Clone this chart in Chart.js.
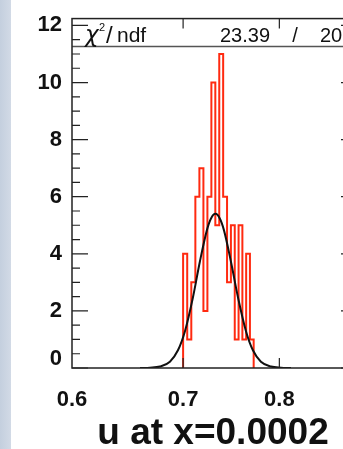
<!DOCTYPE html>
<html>
<head>
<meta charset="utf-8">
<script src="https://cdn.jsdelivr.net/npm/chart.js@4.4.1/dist/chart.umd.min.js"></script>
<style>
  html, body { margin: 0; padding: 0; overflow: hidden; }
  body {
    width: 343px; height: 449px;
    background: linear-gradient(to right, #c4cfde 0, #d2dae6 11px, #ffffff 11px);
  }
  #wrap { position: absolute; left: 0; top: 0; width: 360px; height: 449px; }
</style>
</head>
<body>
<div id="wrap"><canvas id="histChart" width="360" height="449"></canvas></div>
<script>
// histogram bins (lower edges + last upper edge) and entries
const binEdges = [0.700, 0.704, 0.708, 0.712, 0.716, 0.720, 0.724, 0.728, 0.732, 0.736,
                  0.740, 0.744, 0.748, 0.752, 0.756, 0.760, 0.764, 0.768, 0.772];
const binCounts = [4, 1, 3, 6, 7, 2, 6, 10, 5, 11, 6, 3, 5, 1, 5, 1, 4, 1];

// gaussian fit
const fitX = [0.6594, 0.6685, 0.6779, 0.6873, 0.6950, 0.7018, 0.7096, 0.7165, 0.7235, 0.7275,
              0.7321, 0.7367, 0.7408, 0.7480, 0.7554, 0.7638, 0.7712, 0.7798, 0.7907, 0.8018, 0.8130];
const fitY = [0.00, 0.01, 0.05, 0.22, 0.62, 1.29, 2.47, 3.73, 4.83, 5.23,
              5.40, 5.23, 4.83, 3.73, 2.47, 1.29, 0.62, 0.22, 0.05, 0.01, 0.00];

const xTicks = [0.6, 0.7, 0.8];
const yTicks = [0, 2, 4, 6, 8, 10, 12];
const chi2 = '23.39';
const ndf = '20';
const title = 'u at x=0.0002';

// step outline points for the histogram
let histPts = [{x: binEdges[0], y: 0}];
for (let i = 0; i < binCounts.length; i++) {
    histPts.push({x: binEdges[i + 1], y: binCounts[i]});
}
histPts.push({x: binEdges[binEdges.length - 1], y: 0});

let fitPts = fitX.map((v, i) => ({x: v, y: fitY[i]}));

// frame, inward ticks, stats box and axis title like a ROOT canvas
const rootFrame = {
    id: 'rootFrame',
    afterDraw(chart) {
        const ctx = chart.ctx;
        const a = chart.chartArea;
        const xs = chart.scales.x, ys = chart.scales.y;
        ctx.save();

        // stats box
        const boxH = 28;
        ctx.fillStyle = '#ffffff';
        ctx.fillRect(a.left, a.top, a.right - a.left, boxH);
        ctx.strokeStyle = '#555';
        ctx.lineWidth = 1.5;
        ctx.beginPath();
        ctx.moveTo(a.left, a.top + boxH);
        ctx.lineTo(a.right, a.top + boxH);
        ctx.stroke();

        ctx.fillStyle = '#111';
        ctx.textBaseline = 'alphabetic';
        ctx.textAlign = 'left';
        let ty = a.top + 23;
        ctx.font = 'italic 23px "DejaVu Sans"';
        ctx.fillText('χ', 85, ty);
        ctx.font = '11px "Liberation Sans"';
        ctx.fillText('2', 99, ty - 11);
        ctx.font = '24px "Liberation Sans"';
        ctx.fillText('/', 106, ty + 1);
        ctx.font = '21px "Liberation Sans"';
        ctx.fillText('ndf', 117, ty);
        ctx.font = '20px "Liberation Sans"';
        ctx.textAlign = 'right';
        ctx.fillText(chi2, 270, ty);
        ctx.textAlign = 'center';
        ctx.fillText('/', 295, ty);
        ctx.textAlign = 'left';
        ctx.fillText(ndf, 320, ty);

        // frame
        ctx.strokeStyle = '#222';
        ctx.lineWidth = 1.5;
        ctx.strokeRect(a.left, a.top, a.right - a.left, a.bottom - a.top);

        // y ticks, both sides
        ctx.lineWidth = 1.2;
        ctx.beginPath();
        for (let i = 0; i < yTicks.length; i++) {
            let step = i + 1 < yTicks.length ? yTicks[i + 1] - yTicks[i] : yTicks[1] - yTicks[0];
            for (let k = 0; k < 4; k++) {
                let v = yTicks[i] + k * step / 4;
                if (v > ys.max) break;
                let py = ys.getPixelForValue(v);
                let len = k === 0 ? 16 : 8;
                ctx.moveTo(a.left, py); ctx.lineTo(a.left + len, py);
                ctx.moveTo(a.right, py); ctx.lineTo(a.right - len, py);
            }
        }
        // x ticks, bottom and top
        for (let v of xTicks) {
            let px = xs.getPixelForValue(v);
            if (px < a.left + 2) continue;
            ctx.moveTo(px, a.bottom); ctx.lineTo(px, a.bottom - 10);
            ctx.moveTo(px, a.top); ctx.lineTo(px, a.top + 10);
        }
        ctx.stroke();

        // axis title
        ctx.fillStyle = '#111';
        ctx.font = 'bold 37px "Liberation Sans"';
        ctx.textAlign = 'center';
        ctx.fillText(title, 213, 444);
        ctx.restore();
    }
};

const ctx = document.getElementById('histChart').getContext('2d');
new Chart(ctx, {
    type: 'line',
    data: {
        datasets: [{
            label: 'fit',
            data: fitPts,
            borderColor: '#111111',
            borderWidth: 2,
            pointRadius: 0,
            cubicInterpolationMode: 'monotone',
            order: 0
        }, {
            label: 'u',
            data: histPts,
            borderColor: '#ff2a10',
            borderWidth: 2,
            pointRadius: 0,
            stepped: 'after',
            order: 1
        }]
    },
    plugins: [rootFrame],
    options: {
        responsive: false,
        devicePixelRatio: 1,
        animation: false,
        layout: { padding: { left: 0, right: 3, top: 13, bottom: 0 } },
        plugins: { legend: { display: false }, tooltip: { enabled: false } },
        scales: {
            x: {
                type: 'logarithmic',
                min: 0.6,
                max: 0.891,
                grid: { display: false, drawTicks: false },
                border: { display: false },
                afterBuildTicks: (s) => { s.ticks = xTicks.map(v => ({value: v})); },
                afterFit: (s) => { s.height = 81; },
                ticks: {
                    padding: 19,
                    maxRotation: 0,
                    autoSkip: false,
                    color: '#111',
                    font: { family: 'Liberation Sans', size: 22, weight: 'bold' },
                    callback: (v) => Number(v).toFixed(1)
                }
            },
            y: {
                min: 0,
                max: 12.24,
                grid: { display: false, drawTicks: false },
                border: { display: false },
                afterBuildTicks: (s) => { s.ticks = yTicks.map(v => ({value: v})); },
                afterFit: (s) => { s.width = 72; },
                ticks: {
                    padding: 10,
                    color: '#111',
                    font: { family: 'Liberation Sans', size: 22, weight: 'bold', lineHeight: 0.78 },
                    callback: (v) => v === 0 ? ['0', ''] : String(v)
                }
            }
        }
    }
});
</script>
</body>
</html>
